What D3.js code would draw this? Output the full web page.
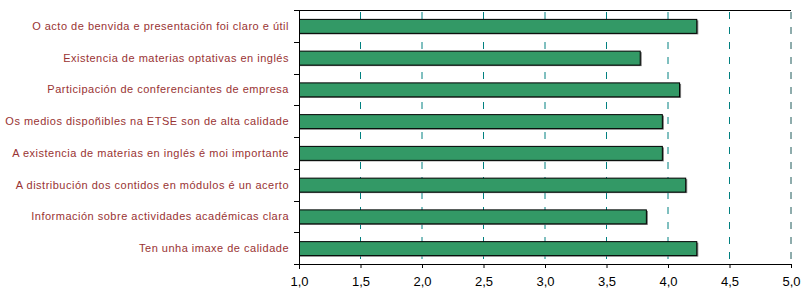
<!DOCTYPE html>
<html>
<head>
<meta charset="utf-8">
<script src="https://cdn.jsdelivr.net/npm/d3@7"></script>
<style>
  body { margin: 0; background: #fff; }
</style>
</head>
<body>
<div id="chart"></div>
<script>
// data
var categories = [
  "O acto de benvida e presentación foi claro e útil",
  "Existencia de materias optativas en inglés",
  "Participación de conferenciantes de empresa",
  "Os medios dispoñibles na ETSE son de alta calidade",
  "A existencia de materias en inglés é moi importante",
  "A distribución dos contidos en módulos é un acerto",
  "Información sobre actividades académicas clara",
  "Ten unha imaxe de calidade"
]
var values = [4.23, 3.77, 4.09, 3.95, 3.95, 4.14, 3.82, 4.23]
var xTicks = [1.0, 1.5, 2.0, 2.5, 3.0, 3.5, 4.0, 4.5, 5.0]

var W = 802, H = 292
var margin = { top: 10, right: 11, bottom: 28, left: 299 }
var width = W - margin.left - margin.right
var height = H - margin.top - margin.bottom

var svg = d3.select("#chart").append("svg")
    .attr("width", W)
    .attr("height", H)

var g = svg.append("g")
    .attr("transform", "translate(" + margin.left + "," + margin.top + ")")

var x = d3.scaleLinear().domain([1, 5]).range([0, width])
var y = d3.scaleBand().domain(categories).range([0, height]).paddingInner(0.56).paddingOuter(0.28)
var band = d3.scaleBand().domain(categories).range([0, height])

// dashed gridlines
g.selectAll(".grid")
    .data(xTicks.slice(1))
    .enter().append("line")
    .attr("x1", d => x(d)).attr("x2", d => x(d))
    .attr("y1", 0).attr("y2", height)
    .attr("stroke", d => d === 5 ? "#1f5a5a" : "#008080")
    .attr("stroke-width", 1)
    .attr("stroke-dasharray", "7,8")
    .attr("stroke-dashoffset", -2)

// top border
g.append("line")
    .attr("x1", 0).attr("x2", width)
    .attr("y1", 0.5).attr("y2", 0.5)
    .attr("stroke", "#000")

// bar shadows
g.selectAll(".shadow")
    .data(values)
    .enter().append("rect")
    .attr("x", 1)
    .attr("y", (d, i) => y(categories[i]) + 1.5)
    .attr("width", d => x(d) - x(1) + 1)
    .attr("height", y.bandwidth())
    .attr("fill", "#777")

// bars
g.selectAll(".bar")
    .data(values)
    .enter().append("rect")
    .attr("x", 0.5)
    .attr("y", (d, i) => y(categories[i]) + 0.5)
    .attr("width", d => x(d) - x(1))
    .attr("height", y.bandwidth())
    .attr("fill", "#339966")
    .attr("stroke", "#000")
    .attr("stroke-width", 1)

// left axis: ticks between categories
var yAxis = g.append("g")
yAxis.append("line")
    .attr("x1", 0.5).attr("x2", 0.5)
    .attr("y1", 0).attr("y2", height + 5)
    .attr("stroke", "#000")
yAxis.selectAll(".ytick")
    .data(d3.range(categories.length + 1))
    .enter().append("line")
    .attr("x1", -5).attr("x2", 0.5)
    .attr("y1", i => Math.round(i * band.step()) + 0.5)
    .attr("y2", i => Math.round(i * band.step()) + 0.5)
    .attr("stroke", "#000")
yAxis.selectAll(".ylabel")
    .data(categories)
    .enter().append("text")
    .attr("x", -10)
    .attr("y", d => band(d) + band.bandwidth() / 2 + 4)
    .attr("text-anchor", "end")
    .attr("fill", "#993333")
    .style("font-family", "Liberation Sans, Arial, sans-serif")
    .style("font-size", "11px")
    .style("letter-spacing", "0.5px")
    .text(d => d)

// bottom axis
var xAxis = g.append("g")
    .attr("transform", "translate(0," + height + ")")
    .call(d3.axisBottom(x).tickValues(xTicks).tickSize(4).tickPadding(9)
        .tickFormat(d => d3.format(".1f")(d).replace(".", ",")))
xAxis.select(".domain").attr("stroke", "#000")
xAxis.selectAll("text")
    .style("font-family", "Liberation Sans, Arial, sans-serif")
    .style("font-size", "13px")
    .attr("fill", "#000")
</script>
</body>
</html>
